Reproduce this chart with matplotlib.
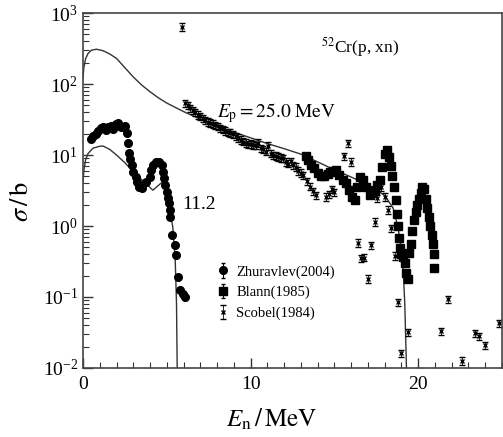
import matplotlib
matplotlib.use("Agg")
import matplotlib.pyplot as plt
import numpy as np
from matplotlib.ticker import LogLocator, MultipleLocator, NullFormatter

plt.rcParams['font.family'] = ['Liberation Serif', 'DejaVu Serif']
plt.rcParams['mathtext.fontset'] = 'stix'

# расчёт, Ep = 25.0 MeV
calc25_e = [0, 0.05, 0.15, 0.3, 0.5, 0.8, 1.2, 1.6, 2.0, 2.5, 3.0, 3.5, 4.0, 4.5, 5.0, 5.5,
            6.0, 7.0, 8.0, 9.0, 10.0, 11.0, 12.0, 13.0, 14.0, 15.0, 16.0, 17.0, 18.0,
            18.5, 18.8, 19.0, 19.1, 19.2, 19.3]
calc25_s = [120, 170, 225, 270, 300, 310, 295, 265, 230, 170, 126, 97, 78, 64, 54, 47,
            41, 32, 25.5, 21, 17.5, 14.5, 12.3, 10.3, 8.0, 6.2, 4.9, 3.8, 2.7,
            1.8, 0.95, 0.45, 0.25, 0.08, 0.01]

# расчёт, Ep = 11.2 MeV
calc11_e = [0, 0.05, 0.15, 0.3, 0.6, 1.0, 1.2, 1.6, 2.0, 2.5, 3.0, 3.5, 4.17, 4.75,
            5.05, 5.35, 5.5, 5.58, 5.62]
calc11_s = [4, 6, 8.5, 10.5, 12.5, 13.3, 13.4, 12, 10, 7.8, 5.8, 4.5, 3.2, 4.2,
            2.3, 1.0, 0.35, 0.08, 0.01]

# Zhuravlev(2004)
zh_e = [0.45, 0.6, 0.75, 0.9, 1.05, 1.2, 1.35, 1.5, 1.65, 1.8, 1.95, 2.1, 2.25, 2.4,
        2.52, 2.62, 2.68, 2.74, 2.8, 2.92, 3.0, 3.14, 3.23, 3.37, 3.53, 3.77, 3.97,
        4.07, 4.2, 4.37, 4.56, 4.7, 4.76, 4.82, 4.92, 5.0, 5.08, 5.12, 5.2, 5.22,
        5.32, 5.48, 5.56, 5.69, 5.81, 5.95, 6.11]
zh_s = [17, 18.5, 20, 22, 24, 25, 22.5, 24.5, 26, 23, 27, 28, 25, 24.5,
        25.5, 20.5, 14.6, 10.7, 8.9, 7.2, 5.8, 4.9, 4.2, 3.55, 3.4, 4.2, 4.9,
        6.1, 7.2, 8.0, 8.0, 7.2, 5.8, 4.7, 3.8, 3.0, 2.45, 2.1, 1.7, 1.35,
        0.74, 0.54, 0.39, 0.19, 0.126, 0.11, 0.10]

# Blann(1985)
bl_e = [13.3, 13.45, 13.6, 13.8, 14.0, 14.2, 14.4, 14.6, 14.75, 14.9, 15.1, 15.3, 15.5,
        15.7, 15.9, 16.05, 16.2, 16.35, 16.5, 16.7, 16.9, 17.1, 17.25, 17.4, 17.55,
        17.7, 17.85, 18.0, 18.15, 18.25, 18.35, 18.45, 18.55, 18.65, 18.72, 18.78,
        18.85, 18.92, 19.0, 19.1, 19.2, 19.3, 19.37, 19.45, 19.55, 19.65, 19.75,
        19.85, 19.95, 20.05, 20.15, 20.25, 20.35, 20.45, 20.55, 20.65, 20.72, 20.8,
        20.88, 20.95, 20.95]
bl_s = [9.6, 8.5, 7.2, 6.5, 5.5, 5.0, 5.0, 5.4, 5.8, 6.0, 6.2, 5.2, 4.4,
        4.0, 3.2, 2.6, 2.35, 3.5, 4.9, 4.4, 3.5, 2.7, 2.9, 3.2, 3.8,
        4.5, 6.8, 10.5, 11.7, 9.5, 7.0, 5.0, 3.5, 2.3, 1.5, 1.0,
        0.68, 0.49, 0.4, 0.37, 0.3, 0.22, 0.18, 0.42, 0.55, 0.85, 1.2,
        1.6, 2.0, 2.4, 2.9, 3.5, 3.3, 2.4, 1.8, 1.35, 1.0, 0.75,
        0.55, 0.4, 0.26]

# Scobel(1984)
sc_e = [5.93, 6.1, 6.25, 6.4, 6.55, 6.7, 6.85, 7.0, 7.15, 7.3, 7.45, 7.6, 7.75, 7.9,
        8.05, 8.2, 8.35, 8.5, 8.65, 8.8, 8.95, 9.1, 9.25, 9.4, 9.55, 9.7, 9.85, 10.0,
        10.15, 10.3, 10.45, 10.6, 10.75, 10.9, 11.05, 11.2, 11.35, 11.5, 11.65, 11.8,
        11.95, 12.1, 12.25, 12.4, 12.55, 12.7, 12.85, 13.0, 13.15, 13.35, 13.55, 13.75,
        13.9, 14.5, 14.7, 14.85, 15.0, 15.6, 15.8, 16.0, 16.4, 16.6, 16.75, 17.0, 17.2,
        17.4, 17.55, 17.8, 18.0, 18.2, 18.4, 18.63, 18.77, 18.97, 19.4, 21.35, 21.8,
        22.6, 23.4, 23.6, 24.0, 24.8]
sc_s = [640, 54, 50, 46, 43, 40, 37, 35, 33, 31, 29.5, 28.5, 27.5, 26.5,
        25.5, 24, 23, 22, 21, 20.5, 19.5, 18.5, 17.5, 16.5, 15.5, 14.8, 14.2, 14.5,
        14.0, 13.8, 14.8, 12.5, 12.0, 11.2, 13.5, 10.5, 10.0, 9.8, 9.4, 9.2,
        9.0, 8.0, 7.6, 8.2, 7.2, 6.8, 6.0, 5.6, 5.2, 4.3, 3.6, 3.1,
        2.7, 2.6, 2.8, 3.3, 3.0, 9.6, 14.6, 8.0, 0.58, 0.35, 0.36, 0.18, 0.54,
        1.15, 2.45, 3.55, 2.6, 1.7, 0.93, 0.38, 0.085, 0.016, 0.032, 0.033, 0.093,
        0.0126, 0.031, 0.028, 0.021, 0.043]

fig = plt.figure(figsize=(5.03, 4.37), dpi=100)
ax = fig.add_axes([0.165, 0.158, 0.833, 0.812])
ax.set_yscale('log')

ax.plot(calc25_e, calc25_s, color='#333333', lw=1.0)
ax.plot(calc11_e, calc11_s, color='#333333', lw=1.0)

zh_s = np.array(zh_s)
bl_s = np.array(bl_s)
sc_s = np.array(sc_s)
ax.errorbar(zh_e, zh_s, yerr=0.08 * zh_s, fmt='o', color='black', ms=5.5,
            elinewidth=0.8, capsize=1.5, label='Zhuravlev(2004)')
ax.errorbar(bl_e, bl_s, yerr=0.08 * bl_s, fmt='s', color='black', ms=5.5,
            elinewidth=0.8, capsize=1.5, label='Blann(1985)')
ax.errorbar(sc_e, sc_s, yerr=0.12 * sc_s, fmt='x', color='black', ms=3.5, mew=1.0,
            elinewidth=0.6, capsize=2, label='Scobel(1984)')

ax.set_xlim(0, 25)
ax.set_ylim(1e-2, 1e3)

ax.xaxis.set_major_locator(MultipleLocator(10))
ax.xaxis.set_minor_locator(MultipleLocator(1))
ax.yaxis.set_major_locator(LogLocator(base=10, numticks=10))
ax.yaxis.set_minor_locator(LogLocator(base=10, subs=np.arange(2, 10), numticks=20))
ax.yaxis.set_minor_formatter(NullFormatter())
ax.tick_params(which='both', direction='in', top=False, right=False, colors='#333333',
               labelcolor='black', labelsize=14)
ax.tick_params(which='major', length=7, width=1.0)
ax.tick_params(which='minor', length=4, width=0.8)
ax.tick_params(axis='x', pad=6)
for s in ax.spines.values():
    s.set_color('#444444')
    s.set_linewidth(1.2)

ax.set_ylabel(r'$\sigma\,/\,\mathrm{b}$', fontsize=19)
ax.yaxis.set_label_coords(-0.12, 0.47)
ax.set_xlabel(r'$E_{\mathrm{n}}\,/\,\mathrm{MeV}$', fontsize=18)
ax.xaxis.set_label_coords(0.45, -0.11)

ax.text(14.2, 330, r'$^{52}$Cr(p, xn)', fontsize=12.5, va='center', ha='left')
ax.text(8.0, 39, r'$E_{\mathrm{p}}=25.0\ \mathrm{MeV}$', fontsize=14, va='center', ha='left')
ax.text(5.9, 2.0, '11.2', fontsize=14, va='center', ha='left')

ax.legend(loc='upper left', bbox_to_anchor=(0.317, 0.29), frameon=False, fontsize=10.5,
          handlelength=1.0, handletextpad=0.4, labelspacing=0.5, borderpad=0,
          borderaxespad=0)

fig.savefig('out.png', dpi=100)
